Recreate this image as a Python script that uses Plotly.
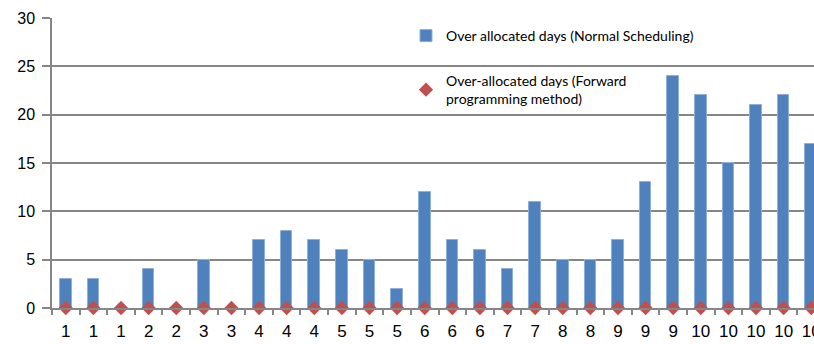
import plotly.graph_objects as go

# Period labels along the x axis (one per task slot)
period_labels = ["1", "1", "1", "2", "2", "3", "3", "4", "4", "4", "5", "5", "5",
                 "6", "6", "6", "7", "7", "8", "8", "9", "9", "9",
                 "10", "10", "10", "10", "10"]
# Over-allocated days under normal scheduling
normal_days = [3, 3, 0, 4, 0, 5, 0, 7, 8, 7, 6, 5, 2, 12, 7, 6, 4, 11, 5, 5,
               7, 13, 24, 22, 15, 21, 22, 17]
# Over-allocated days with the forward programming method
forward_days = [0] * len(period_labels)

y_ticks = [0, 5, 10, 15, 20, 25, 30]

x_pos = list(range(len(period_labels)))
W, H = 814, 344
ML, MT, MB = 52, 18, 36
PW, PH = W - ML, H - MT - MB


def px_to_paper(px, py):
    return (px - ML) / PW, (H - MB - py) / PH


fig = go.Figure()
fig.add_trace(go.Bar(
    x=x_pos, y=normal_days, width=0.42,
    name="Over allocated days (Normal Scheduling)",
    marker=dict(color="#4F81BD", line=dict(color="#8EAEDB", width=1)),
    legend="legend",
))
fig.add_trace(go.Scatter(
    x=x_pos, y=forward_days, mode="markers",
    name="Over-allocated days (Forward<br>programming method)",
    marker=dict(symbol="diamond", color="#C0504D", size=11),
    cliponaxis=False,
    legend="legend2",
))

axis_grey = "#868686"
lg1x, lg1y = px_to_paper(406, 20)
lg2x, lg2y = px_to_paper(406, 65)
legend_font = dict(family="Lato, Calibri, sans-serif", size=14)

fig.update_layout(
    width=W, height=H,
    margin=dict(l=ML, r=0, t=MT, b=MB, autoexpand=False),
    plot_bgcolor="white", paper_bgcolor="white",
    font=dict(family="Liberation Sans, Arial, sans-serif", size=16, color="black"),
    bargap=0,
    xaxis=dict(
        range=[-0.5, 27.1],
        tickmode="array", tickvals=x_pos, ticktext=period_labels,
        tickangle=0, ticklabeloverflow="allow",
        ticklabelstandoff=7,
        ticks="", showgrid=False, zeroline=False,
        showline=True, linecolor=axis_grey, linewidth=1.5,
        minor=dict(tickmode="array",
                   tickvals=[i - 0.5 for i in range(len(period_labels) + 1)],
                   ticks="outside", ticklen=5, tickcolor=axis_grey, tickwidth=1.5),
        tickfont=dict(size=17),
    ),
    yaxis=dict(
        range=[0, 30], tickmode="array", tickvals=y_ticks,
        showgrid=True, gridcolor=axis_grey, gridwidth=1.5,
        zeroline=False,
        showline=True, linecolor=axis_grey, linewidth=1.5,
        ticks="outside", ticklen=8, tickcolor=axis_grey, tickwidth=1.5,
        ticklabelstandoff=4,
        tickfont=dict(size=16),
    ),
    legend=dict(
        x=lg1x, y=lg1y, xanchor="left", yanchor="top",
        bgcolor="rgba(0,0,0,0)", borderwidth=0, font=legend_font,
    ),
    legend2=dict(
        x=lg2x, y=lg2y, xanchor="left", yanchor="top",
        bgcolor="rgba(0,0,0,0)", borderwidth=0, font=legend_font,
    ),
    showlegend=True,
)

fig.write_html("out.html")
